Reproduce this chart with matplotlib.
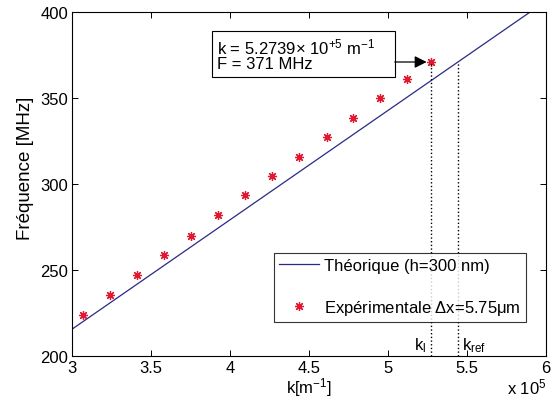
import numpy as np
import matplotlib
matplotlib.use('Agg')
import matplotlib.pyplot as plt
from matplotlib.patches import Rectangle

plt.rcParams['font.family'] = ['Liberation Sans', 'DejaVu Sans']
plt.rcParams['mathtext.fontset'] = 'custom'
plt.rcParams['mathtext.rm'] = 'Liberation Sans'
plt.rcParams['mathtext.it'] = 'Liberation Sans'

# measured points (k in 1e5 m^-1, F in MHz)
k_exp = [3.07, 3.24, 3.41, 3.58, 3.755, 3.925, 4.095, 4.265, 4.435, 4.61, 4.78, 4.95, 5.12, 5.2739]
f_exp = [224, 235.5, 247, 259, 270, 282, 293.5, 305, 316, 327.5, 338.5, 350, 361, 371]

# theoretical dispersion, h = 300 nm (straight line over the range)
k_theo = [3.0, 6.0]
f_theo = [215.7, 406.5]

k_l = 5.2739
k_ref = 5.442
f_mark = 371

fs = 12

fig = plt.figure(figsize=(5.55, 4.10), dpi=100)
ax = fig.add_axes([0.13, 0.129, 0.854, 0.839])

ax.plot(k_theo, f_theo, color='#2a2a86', lw=0.9, label=u'Théorique (h=300 nm)')
ax.plot(k_exp, f_exp, ls='none', marker=(8, 2, 0), ms=6.5, mew=0.9, color='#e01830',
        label=u'Expérimentale $\\Delta$x=5.75$\\mu$m')

# dotted guides down to the axis
ax.plot([k_l, k_l], [200, f_mark], ls=':', color='k', lw=1.0)
ax.plot([k_ref, k_ref], [200, f_mark], ls=':', color='k', lw=1.0)
ax.text(k_l - 0.035, 201, '$\\mathregular{k_l}$', ha='right', va='bottom', fontsize=fs)
ax.text(k_ref + 0.025, 201, '$\\mathregular{k_{ref}}$', ha='left', va='bottom', fontsize=fs)

# value box with arrow pointing at the last point
box_k0, box_k1 = 3.884, 5.042
box_f0, box_f1 = 362.3, 389.2
ax.add_patch(Rectangle((box_k0, box_f0), box_k1 - box_k0, box_f1 - box_f0,
                       fc='white', ec='k', lw=0.8, zorder=3))
ax.text(box_k0 + 0.03, (box_f0 + box_f1) / 2, u'k = 5.2739$\\times$ 10$^{+5}$ m$^{-1}$\nF = 371 MHz',
        ha='left', va='center', fontsize=fs, linespacing=0.9, zorder=4)
ax.annotate('', xy=(k_l - 0.03, f_mark), xytext=(box_k1, f_mark),
            arrowprops=dict(arrowstyle='-|>', color='k', lw=0.9, mutation_scale=18,
                            shrinkA=0, shrinkB=0))

ax.set_xlim(3, 6)
ax.set_ylim(200, 400)
ax.set_xticks([3, 3.5, 4, 4.5, 5, 5.5, 6])
ax.set_xticklabels(['3', '3.5', '4', '4.5', '5', '5.5', '6'])
ax.set_yticks([200, 250, 300, 350, 400])
ax.tick_params(direction='in', top=True, right=True, length=4, width=0.7, labelsize=fs, pad=3)
for s in ax.spines.values():
    s.set_linewidth(0.8)

ax.set_xlabel('k[m$^{-1}$]', fontsize=fs, labelpad=0)
ax.set_ylabel(u'Fréquence [MHz]', fontsize=13.5)
ax.yaxis.set_label_coords(-0.08, 0.55)
fig.text(0.985, 0.03, 'x 10$^5$', ha='right', va='bottom', fontsize=fs)

leg = ax.legend(loc='lower right', bbox_to_anchor=(0.957, 0.1), fontsize=fs, frameon=True,
                fancybox=False, edgecolor='k', labelspacing=1.5, handlelength=2.4,
                handletextpad=0.3, borderpad=0.3, borderaxespad=0)
leg.get_frame().set_linewidth(0.8)

fig.savefig('out.png', dpi=100)
